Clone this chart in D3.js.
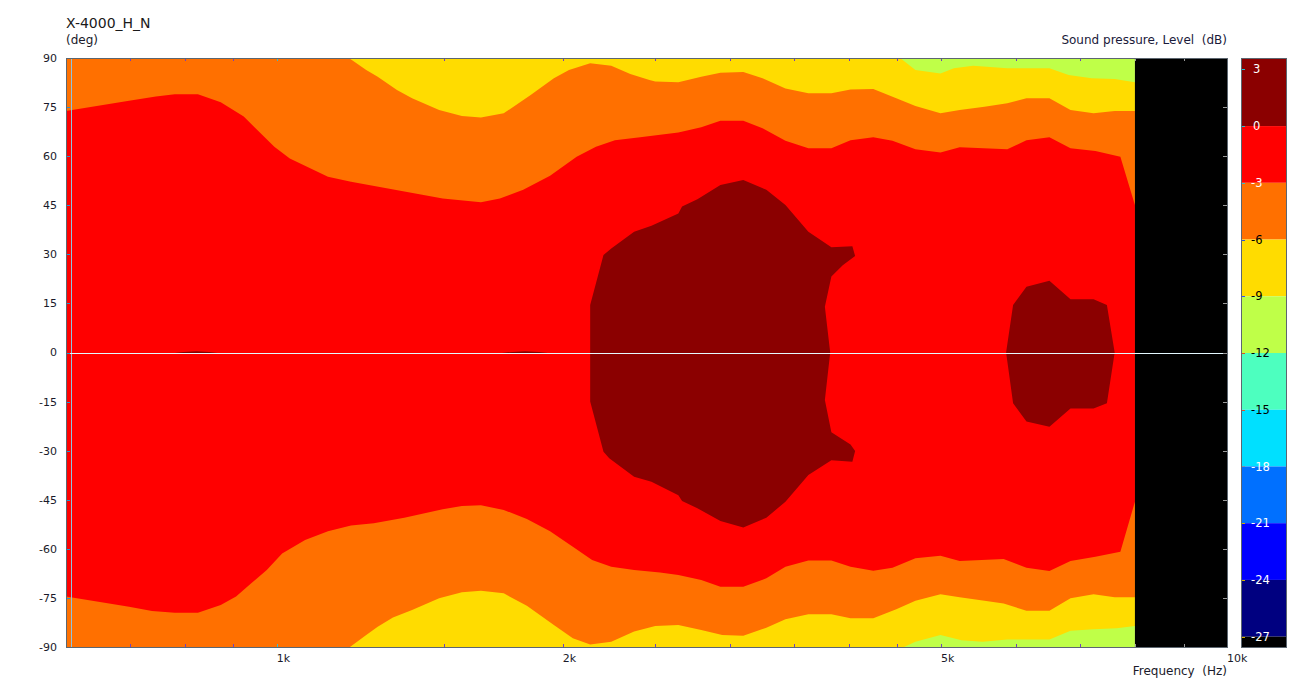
<!DOCTYPE html>
<html>
<head>
  <meta charset="utf-8">
  <style>
    body { margin: 0; background: #ffffff; }
    text { font-family: "DejaVu Sans", Verdana, sans-serif; white-space: pre; }
  </style>
  <title>X-4000_H_N</title>
</head>
<body>
  <script src="https://cdn.jsdelivr.net/npm/d3@7"></script>
  <script>
    // ---- data (frequency in Hz, angle in deg) ----
    var freqTicks = [700, 800, 900, 1000, 1500, 2000, 2500, 3000, 3500, 4000, 4500, 5000, 6000, 7000, 8000, 9000];
    var freqLabels = [[1000, "1k"], [2000, "2k"], [5000, "5k"], [10000, "10k"]];
    var angleTicks = [90, 75, 60, 45, 30, 15, 0, -15, -30, -45, -60, -75, -90];
    var levelTicks = [3, 0, -3, -6, -9, -12, -15, -18, -21, -24, -27];
    var levelColors = ["#8b0000", "#ff0000", "#ff7000", "#ffdc00", "#bfff48", "#4dffbf", "#00e0ff", "#0070ff", "#0000ff", "#000080", "#000000"];
    var levelLabelColors = ["#fff", "#fff", "#fff", "#000", "#000", "#000", "#000", "#fff", "#fff", "#fff", "#fff"];
    var levelTickColors = ["#20c0d0", "#20c0d0", "#40c0c0", "#3050d0", "#3050ff", "#e05020", "#e05020", "#8090a0", "#d0b000", "#d0b000", "#d0b000"];

    var fMin = 600, fData = 8000, fMax = 10000;

    // -9 dB boundary (yellow / green)
    var topM9 = [[600, 90], [4529, 90], [4700, 86.3], [4994, 85.3], [5159, 86.9], [5405, 87.6], [5872, 86.9], [6503, 86.9], [6813, 84.8], [7204, 83.8], [7617, 83.6], [8000, 82.6]];
    var botM9 = [[600, -90], [4572, -90], [4700, -88.4], [4994, -86.3], [5256, -87.9], [5531, -88.4], [5872, -87.7], [6503, -87.7], [6844, -85.0], [7237, -84.6], [7652, -84.3], [8000, -83.6]];

    // -6 dB boundary (orange / yellow)
    var topM6 = [[600, 90], [1191, 90], [1242, 86.3], [1277, 84.3], [1338, 80.2], [1388, 77.7], [1482, 74.1], [1566, 72.3], [1640, 71.8], [1733, 73.1], [1850, 78.7], [1957, 83.8], [2030, 86.3], [2137, 88.4], [2249, 87.6], [2355, 85.1], [2467, 83.3], [2502, 82.8], [2646, 82.6], [2797, 84.3], [2930, 85.5], [3097, 85.7], [3245, 83.8], [3430, 80.7], [3626, 79.2], [3834, 79.2], [4016, 80.4], [4244, 80.5], [4487, 77.7], [4700, 75.3], [4994, 73.1], [5232, 74.1], [5556, 75.1], [5872, 76.2], [6151, 77.7], [6503, 77.7], [6844, 74.1], [7237, 73.1], [7617, 73.8], [8000, 73.8]];
    var botM6 = [[600, -90], [1194, -90], [1242, -86.3], [1277, -83.8], [1325, -81.0], [1388, -78.7], [1482, -75.1], [1566, -73.3], [1640, -72.8], [1733, -73.6], [1833, -77.4], [1957, -83.3], [2049, -87.3], [2137, -89.2], [2249, -88.4], [2377, -85.3], [2502, -83.6], [2646, -83.3], [2797, -84.8], [2943, -86.3], [3097, -86.6], [3275, -84.1], [3430, -81.5], [3626, -80.0], [3834, -80.0], [4016, -81.2], [4244, -81.2], [4487, -78.5], [4700, -75.9], [4994, -73.9], [5232, -74.8], [5556, -75.9], [5820, -76.7], [6151, -78.9], [6503, -78.9], [6844, -75.1], [7237, -73.9], [7617, -74.8], [8000, -74.8]];

    // -3 dB boundary (red / orange)
    var topM3 = [[600, 73.8], [699, 76.9], [746, 78.2], [781, 78.9], [826, 78.9], [873, 76.5], [923, 72.1], [994, 62.9], [1032, 59.3], [1132, 53.7], [1197, 52.2], [1495, 47.1], [1640, 45.9], [1717, 47.1], [1817, 49.7], [1939, 54.0], [2068, 59.8], [2167, 62.9], [2269, 64.9], [2412, 65.8], [2646, 67.2], [2797, 68.8], [2930, 70.8], [3097, 70.8], [3245, 68.5], [3430, 64.7], [3626, 62.4], [3834, 62.4], [4016, 64.9], [4244, 65.8], [4446, 64.7], [4700, 62.1], [4994, 61.1], [5232, 62.7], [5872, 62.1], [6151, 64.9], [6503, 65.8], [6844, 62.4], [7270, 61.6], [7723, 59.8], [8000, 45.1]];
    var botM3 = [[600, -74.6], [649, -76.2], [699, -77.7], [739, -79.0], [781, -79.5], [826, -79.5], [873, -77.2], [906, -74.6], [940, -70.5], [976, -66.5], [1013, -61.4], [1071, -57.3], [1132, -54.6], [1197, -52.9], [1265, -52.2], [1362, -50.5], [1495, -47.9], [1566, -46.9], [1640, -46.7], [1733, -48.1], [1833, -50.9], [1939, -54.6], [2049, -59.4], [2147, -63.4], [2249, -65.5], [2377, -66.5], [2531, -67.2], [2646, -68.0], [2797, -69.5], [2930, -71.6], [3097, -71.6], [3275, -69.0], [3430, -65.5], [3626, -63.6], [3834, -63.6], [4016, -65.5], [4244, -66.7], [4446, -65.8], [4700, -62.9], [4994, -62.1], [5232, -63.7], [5820, -63.1], [6151, -65.8], [6503, -66.8], [6844, -63.7], [7270, -62.4], [7723, -60.9], [8000, -45.6]];

    // 0 dB islands (dark red)
    var peakA = [[2137, 0], [2137, 14.5], [2207, 29.8], [2249, 31.8], [2377, 36.9], [2479, 38.7], [2646, 42.5], [2670, 44.6], [2771, 46.8], [2930, 51.2], [3097, 52.7], [3275, 49.7], [3430, 45.1], [3626, 36.9], [3834, 32.2], [4034, 32.5], [4061, 29.5], [3941, 26.7], [3834, 23.2], [3774, 14.0], [3823, 0], [3774, -14.5], [3834, -24.4], [4016, -28.1], [4061, -30.1], [4034, -33.4], [3834, -32.9], [3626, -37.4], [3430, -45.6], [3275, -50.5], [3097, -53.5], [2930, -51.5], [2771, -47.6], [2670, -45.4], [2646, -43.6], [2479, -39.5], [2377, -38.0], [2238, -32.3], [2207, -30.3], [2137, -15.0]];
    var peakB = [[5855, 0], [5955, 14.5], [6151, 20.1], [6503, 21.9], [6844, 16.3], [7237, 16.3], [7475, 14.5], [7617, 0], [7475, -15.5], [7237, -17.1], [6844, -17.1], [6503, -22.7], [6151, -21.1], [5955, -15.5]];
    var peakC = [[781, 0], [823, 0.35], [866, 0], [823, -0.35]];
    var peakD = [[1725, 0], [1825, 0.35], [1929, 0], [1825, -0.35]];

    var cursorFreq = 608;

    // ---- dimensions ----
    var width = 1300;
    var height = 684;
    var plotLeft = 66, plotRight = 1227, plotTop = 58, plotBottom = 647;
    var cbLeft = 1241, cbRight = 1286;

    var x = d3.scaleLog().domain([fMin, fMax]).range([plotLeft, plotRight]);
    var y = d3.scaleLinear().domain([-90, 90]).range([plotBottom, plotTop]);
    var cb = d3.scaleLinear().domain([3.6, -27.6]).range([plotTop, plotBottom + 1]);

    var svg = d3.select("body").append("svg")
      .attr("width", width)
      .attr("height", height);

    svg.append("clipPath").attr("id", "plotclip")
      .append("rect")
      .attr("x", plotLeft).attr("y", plotTop)
      .attr("width", plotRight - plotLeft).attr("height", plotBottom - plotTop);

    var plot = svg.append("g").attr("clip-path", "url(#plotclip)");

    var line = d3.line()
      .x(function (d) { return x(d[0]); })
      .y(function (d) { return y(d[1]); });

    function band(upper, lower) {
      return line(upper.concat(lower.slice().reverse())) + "Z";
    }

    // lowest level present fills the measured range
    plot.append("rect")
      .attr("x", x(fMin)).attr("y", y(90))
      .attr("width", x(fData) - x(fMin)).attr("height", y(-90) - y(90))
      .attr("fill", levelColors[4]);

    plot.append("path").attr("d", band(topM9, botM9)).attr("fill", levelColors[3]);
    plot.append("path").attr("d", band(topM6, botM6)).attr("fill", levelColors[2]);
    plot.append("path").attr("d", band(topM3, botM3)).attr("fill", levelColors[1]);

    [peakA, peakB, peakC, peakD].forEach(function (p) {
      plot.append("path").attr("d", line(p) + "Z").attr("fill", levelColors[0]);
    });

    // no data above 8 kHz
    plot.append("rect")
      .attr("x", x(fData)).attr("y", y(90))
      .attr("width", x(fMax) - x(fData)).attr("height", y(-90) - y(90))
      .attr("fill", "#000");

    // cursor lines
    plot.append("line")
      .attr("x1", Math.round(x(cursorFreq)) + 0.5).attr("x2", Math.round(x(cursorFreq)) + 0.5)
      .attr("y1", y(90)).attr("y2", y(-90))
      .attr("stroke", "#8cc4e0").attr("stroke-width", 1);
    plot.append("line")
      .attr("x1", plotLeft).attr("x2", plotRight)
      .attr("y1", Math.round(y(0)) + 0.5).attr("y2", Math.round(y(0)) + 0.5)
      .attr("stroke", "#e4f8ff").attr("stroke-width", 1);

    // ticks on the frame
    var tickG = svg.append("g");
    freqTicks.forEach(function (f) {
      var xx = Math.round(x(f)) + 0.5;
      var c = f === 1000 ? "#30c0d0" : (f >= fData ? "#9a9a9a" : "#7040c0");
      tickG.append("line").attr("x1", xx).attr("x2", xx).attr("y1", plotTop).attr("y2", plotTop + 3).attr("stroke", c);
      tickG.append("line").attr("x1", xx).attr("x2", xx).attr("y1", plotBottom).attr("y2", plotBottom - 3).attr("stroke", c);
    });
    angleTicks.forEach(function (a) {
      var yy = Math.round(y(a)) + 0.5;
      tickG.append("line").attr("x1", plotLeft).attr("x2", plotLeft + 4).attr("y1", yy).attr("y2", yy).attr("stroke", "#2a90d0");
      tickG.append("line").attr("x1", plotRight).attr("x2", plotRight - 4).attr("y1", yy).attr("y2", yy).attr("stroke", "#9a9a9a");
    });

    // plot frame
    svg.append("rect")
      .attr("x", plotLeft + 0.5).attr("y", plotTop + 0.5)
      .attr("width", plotRight - plotLeft).attr("height", plotBottom - plotTop)
      .attr("fill", "none").attr("stroke", "#5c6670").attr("stroke-width", 1);

    // Y labels
    svg.selectAll("text.ylab").data(angleTicks).enter().append("text")
      .attr("class", "ylab")
      .attr("x", 57)
      .attr("y", function (d) { return y(d); })
      .attr("dy", "0.36em")
      .attr("text-anchor", "end")
      .style("font-size", "11px")
      .attr("fill", "#1a1a2a")
      .text(function (d) { return d; });

    // X labels
    svg.selectAll("text.xlab").data(freqLabels).enter().append("text")
      .attr("class", "xlab")
      .attr("x", function (d) { return x(d[0]); })
      .attr("y", 662)
      .style("font-size", "11px")
      .attr("fill", "#1a1a2a")
      .text(function (d) { return d[1]; });

    svg.append("text")
      .attr("x", plotRight).attr("y", 675)
      .attr("text-anchor", "end")
      .style("font-size", "12px")
      .attr("fill", "#1a1a2a")
      .text("Frequency  (Hz)");

    // titles
    svg.append("text")
      .attr("x", 66).attr("y", 28)
      .style("font-size", "14px")
      .attr("fill", "#1a1a1a")
      .text("X-4000_H_N");
    svg.append("text")
      .attr("x", 66).attr("y", 44)
      .style("font-size", "12px")
      .attr("fill", "#1a1a2a")
      .text("(deg)");
    svg.append("text")
      .attr("x", plotRight).attr("y", 44)
      .attr("text-anchor", "end")
      .style("font-size", "12px")
      .attr("fill", "#1a1a3a")
      .text("Sound pressure, Level  (dB)");

    // colour bar
    var edges = [3.6].concat(levelTicks.slice(1)).concat([-27.6]);
    var cbG = svg.append("g");
    levelColors.forEach(function (c, i) {
      cbG.append("rect")
        .attr("x", cbLeft).attr("y", cb(edges[i]))
        .attr("width", cbRight - cbLeft).attr("height", cb(edges[i + 1]) - cb(edges[i]))
        .attr("fill", c);
    });
    levelTicks.forEach(function (v, i) {
      var yy = Math.round(cb(v)) + 0.5;
      cbG.append("line").attr("x1", cbLeft).attr("x2", cbLeft + 4).attr("y1", yy).attr("y2", yy)
        .attr("stroke", levelTickColors[i]);
      cbG.append("text")
        .attr("x", v < 0 ? 1251 : 1253).attr("y", cb(v))
        .attr("dy", "0.36em")
        .style("font-size", "11.5px")
        .attr("fill", levelLabelColors[i])
        .text(v);
    });
    cbG.append("rect")
      .attr("x", cbLeft + 0.5).attr("y", plotTop + 0.5)
      .attr("width", cbRight - cbLeft).attr("height", plotBottom - plotTop)
      .attr("fill", "none").attr("stroke", "#5c6670").attr("stroke-width", 1);
  </script>
</body>
</html>
